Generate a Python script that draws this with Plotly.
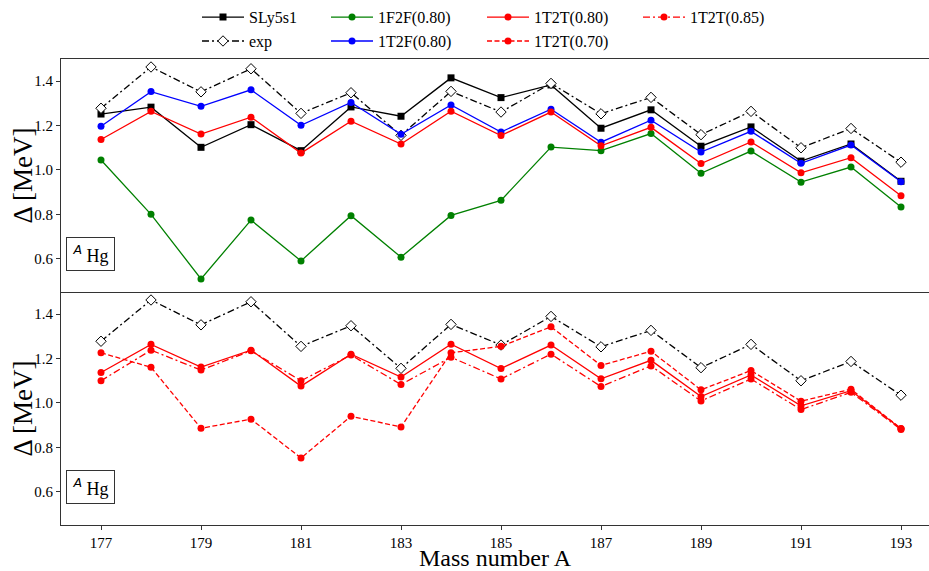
import plotly.graph_objects as go

# ---------------- data ----------------
mass_number = [177, 178, 179, 180, 181, 182, 183, 184, 185,
               186, 187, 188, 189, 190, 191, 192, 193]

sly5s1 = [1.252, 1.283, 1.102, 1.204, 1.087, 1.284, 1.242, 1.415, 1.326,
          1.383, 1.188, 1.271, 1.107, 1.194, 1.040, 1.117, 0.949]
exp = [1.278, 1.464, 1.352, 1.456, 1.255, 1.348, 1.156, 1.354, 1.261,
       1.390, 1.253, 1.327, 1.159, 1.264, 1.100, 1.187, 1.035]
f1f2f_080 = [1.045, 0.800, 0.509, 0.774, 0.590, 0.794, 0.607, 0.795, 0.863,
             1.103, 1.087, 1.164, 0.985, 1.085, 0.945, 1.013, 0.833]
t1t2f_080 = [1.197, 1.353, 1.287, 1.361, 1.201, 1.304, 1.161, 1.293, 1.171,
             1.274, 1.125, 1.224, 1.081, 1.174, 1.030, 1.112, 0.947]
t1t2t_080 = [1.137, 1.264, 1.162, 1.238, 1.076, 1.220, 1.117, 1.265, 1.155,
             1.261, 1.109, 1.192, 1.029, 1.126, 0.987, 1.055, 0.884]
t1t2t_070 = [1.226, 1.161, 0.886, 0.927, 0.752, 0.940, 0.892, 1.226, 1.255,
             1.343, 1.169, 1.233, 1.059, 1.146, 1.008, 1.062, 0.885]
t1t2t_085 = [1.100, 1.238, 1.148, 1.235, 1.100, 1.216, 1.083, 1.206, 1.108,
             1.220, 1.074, 1.167, 1.009, 1.108, 0.970, 1.048, 0.880]

x_ticks = [177, 179, 181, 183, 185, 187, 189, 191, 193]
y_ticks = [0.6, 0.8, 1.0, 1.2, 1.4]

# ---------------- styles ----------------
FONT = "Liberation Serif, Times New Roman, serif"
DASHDOT = "7px,3px,2px,3px"
DASHED = "5px,2.5px"
LW = 1.3
COL1_W = 72
COL2_W = 99

fig = go.Figure()


def add(y, name, color, dash, symbol, size, xa, ya, showlegend,
        legend="legend", lw=None, fill=None):
    fig.add_trace(go.Scatter(
        x=mass_number, y=y, name=name, mode="lines+markers",
        xaxis=xa, yaxis=ya, showlegend=showlegend, legend=legend,
        legendwidth=lw,
        line=dict(color=color, width=LW, dash=dash),
        marker=dict(symbol=symbol, size=size,
                    color=fill if fill else color,
                    line=dict(color=color, width=1 if fill else 0)),
    ))


# top panel (legend rows handled via two legends)
add(sly5s1, "SLy5s1", "black", "solid", "square", 7, "x2", "y2", True, "legend", COL1_W)
add(exp, "exp", "black", DASHDOT, "diamond", 8, "x2", "y2", True, "legend2", COL1_W, fill="white")
add(f1f2f_080, "1F2F(0.80)", "#008000", "solid", "circle", 7, "x2", "y2", True, "legend", COL2_W)
add(t1t2f_080, "1T2F(0.80)", "#0000ff", "solid", "circle", 7, "x2", "y2", True, "legend2", COL2_W)
add(t1t2t_080, "1T2T(0.80)", "#ff0000", "solid", "circle", 7, "x2", "y2", True, "legend", COL2_W)

# bottom panel
add(exp, "exp", "black", DASHDOT, "diamond", 8, "x", "y", False, fill="white")
add(t1t2t_080, "1T2T(0.80)", "#ff0000", "solid", "circle", 7, "x", "y", False)
add(t1t2t_070, "1T2T(0.70)", "#ff0000", DASHED, "circle", 7, "x", "y", True, "legend2", COL2_W)
add(t1t2t_085, "1T2T(0.85)", "#ff0000", DASHDOT, "circle", 7, "x", "y", True, "legend", COL2_W)

AX_COL = "#333333"
common_y = dict(range=[0.45, 1.5], tickvals=y_ticks, tickformat=".1f",
                ticks="outside", ticklen=4, tickcolor=AX_COL,
                showline=True, linecolor=AX_COL, linewidth=1.2,
                showgrid=False, zeroline=False, automargin=False,
                tickfont=dict(family=FONT, size=15, color="black"))

LEG_X = (197 - 61) / 868

fig.update_layout(
    width=929, height=571,
    margin=dict(l=61, r=0, t=57, b=46),
    paper_bgcolor="white", plot_bgcolor="white",
    font=dict(family=FONT, size=16, color="black"),
    xaxis=dict(domain=[0, 1], anchor="y", range=[176.2, 193.56],
               tickvals=x_ticks, ticks="outside", ticklen=4, tickcolor=AX_COL,
               showline=True, linecolor=AX_COL, linewidth=1.2,
               showgrid=False, zeroline=False, automargin=False,
               tickfont=dict(family=FONT, size=15, color="black")),
    xaxis2=dict(domain=[0, 1], anchor="y2", matches="x", range=[176.2, 193.56],
                showticklabels=False, ticks="", showline=True, mirror=True,
                linecolor=AX_COL, linewidth=1.2, showgrid=False, zeroline=False,
                automargin=False),
    yaxis=dict(domain=[0, 0.5], anchor="x", **common_y),
    yaxis2=dict(domain=[0.5, 1], anchor="x2", **common_y),
    legend=dict(orientation="h", xref="paper", yref="paper",
                x=LEG_X, y=1 + 42 / 468, xanchor="left", yanchor="middle",
                itemwidth=42, font=dict(family=FONT, size=16, color="black"),
                bgcolor="rgba(0,0,0,0)"),
    legend2=dict(orientation="h", xref="paper", yref="paper",
                 x=LEG_X, y=1 + 18 / 468, xanchor="left", yanchor="middle",
                 itemwidth=42, font=dict(family=FONT, size=16, color="black"),
                 bgcolor="rgba(0,0,0,0)"),
)

# x-axis title
fig.add_annotation(
    x=0.5, y=(525 - 544) / 468, xref="x domain", yref="paper",
    xanchor="center", yanchor="top", text="Mass number A", showarrow=False,
    font=dict(family=FONT, size=24, color="black"), borderpad=0,
)

# y-axis titles (one per panel)
for yr in ["y2 domain", "y domain"]:
    fig.add_annotation(
        x=(22 - 61) / 868, y=0.5, xref="paper", yref=yr,
        xanchor="center", yanchor="middle", textangle=-90,
        text="Δ [MeV]", showarrow=False,
        font=dict(family=FONT, size=27, color="black"),
    )

label = "<sup><span style='font-family:DejaVu Sans'><i>A</i></span></sup> Hg"
for xr, yr in [("x2 domain", "y2 domain"), ("x domain", "y domain")]:
    fig.add_annotation(
        x=(90.5 - 61) / 868, y=0.165, xref=xr, yref=yr,
        xanchor="center", yanchor="middle",
        text=label, showarrow=False,
        font=dict(family=FONT, size=18, color="black"),
        width=41, height=26, borderpad=3, borderwidth=1,
        bordercolor=AX_COL, bgcolor="white", align="center",
    )

fig.write_html("out.html", config={"displayModeBar": False},
               post_script="document.body.style.margin='0';document.body.style.padding='0';")
